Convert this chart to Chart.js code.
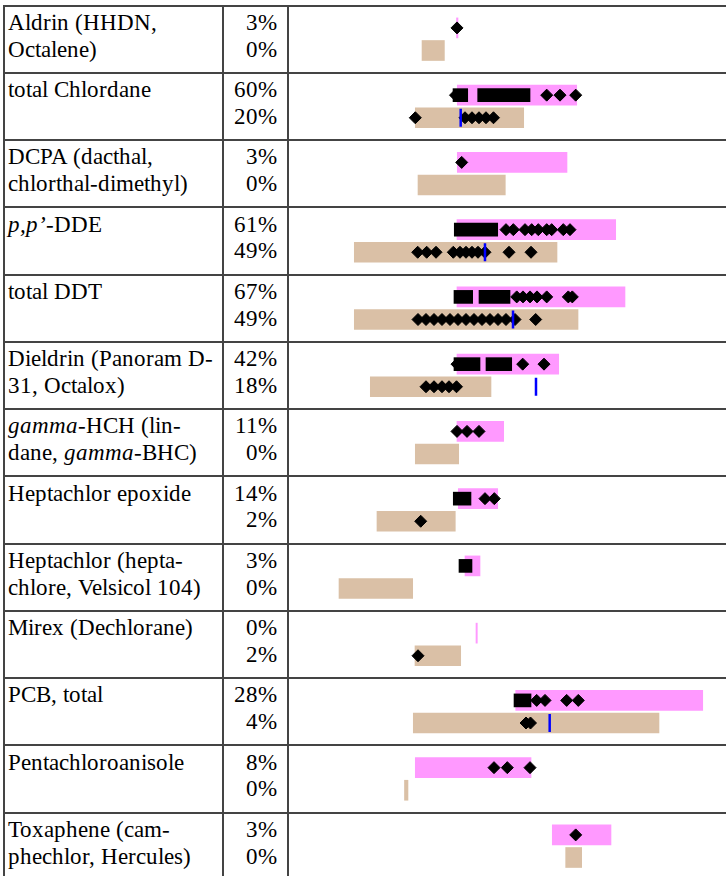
<!DOCTYPE html>
<html><head><meta charset="utf-8">
<script src="https://cdn.jsdelivr.net/npm/chart.js@4.4.1/dist/chart.umd.min.js"></script>
<style>
@font-face{font-family:'RefSerif';font-style:normal;font-weight:400;src:local('Liberation Serif'),local('LiberationSerif'),local('LiberationSerif-Regular'),local('Liberation Serif Regular'),local('Times New Roman'),local('DejaVu Serif'),local('DejaVuSerif'),local('Noto Serif');}
@font-face{font-family:'RefSerif';font-style:italic;font-weight:400;src:local('Liberation Serif Italic'),local('LiberationSerif-Italic'),local('Times New Roman Italic'),local('DejaVu Serif Italic'),local('DejaVuSerif-Italic'),local('Noto Serif Italic');}
html,body{margin:0;padding:0;background:#fff;overflow:hidden;}
#wrap{position:relative;width:726px;height:876px;overflow:hidden;font-family:'RefSerif','Liberation Serif','DejaVu Serif',serif;font-size:23.3px;line-height:26.8px;color:#000;}
.hl{position:absolute;left:3px;width:723px;height:2px;background:#444;}
.vl{position:absolute;top:4.7px;width:2px;height:880px;background:#444;}
.name{position:absolute;left:8px;width:214px;white-space:nowrap;}
.pct{position:absolute;left:226px;width:51px;text-align:right;}
#plot{position:absolute;left:290px;top:0;}
</style>
</head><body>
<div id="wrap"><canvas id="plot" width="436" height="876"></canvas></div>
<script>
// ---- data ----
const compounds = [
  'Aldrin (HHDN,<br>Octalene)',
  'total Chlordane',
  'DCPA (dacthal,<br>chlorthal-dimethyl)',
  '<i>p,p’</i>-DDE',
  'total DDT',
  'Dieldrin (Panoram D-<br>31, Octalox)',
  '<i>gamma</i>-HCH (lin-<br>dane, <i>gamma</i>-BHC)',
  'Heptachlor epoxide',
  'Heptachlor (hepta-<br>chlore, Velsicol 104)',
  'Mirex (Dechlorane)',
  'PCB, total',
  'Pentachloroanisole',
  'Toxaphene (cam-<br>phechlor, Hercules)'
];
const pctPink = ['3%','60%','3%','61%','67%','42%','11%','14%','3%','0%','28%','8%','3%'];
const pctTan  = ['0%','20%','0%','49%','49%','18%','0%','2%','0%','2%','4%','0%','0%'];

const pinkLow  = [38.19, 38.37, 38.37, 38.30, 38.30, 38.30, 38.30, 38.60, 40.14, 42.66, 51.77, 28.74, 60.16];
const pinkHigh = [38.53, 65.76, 63.53, 74.70, 76.83, 61.63, 49.01, 47.64, 43.58, 42.96, 94.66, 55.28, 73.62];
const tanLow   = [30.28, 28.74, 29.36, 14.75, 14.75, 18.42, 28.74, 19.95, 11.24, 28.67, 28.28, 26.26, 63.23];
const tanHigh  = [35.41, 53.60, 49.38, 61.24, 66.06, 46.10, 38.69, 37.91, 28.14, 39.15, 84.63, 27.06, 66.90];

const pinkBlocks = [
  [],
  [[37.39,40.76],[43.05,55.05]],
  [],
  [[37.68,47.64]],
  [[37.61,41.90],[43.35,50.46]],
  [[37.61,43.58],[44.95,50.85]],
  [],
  [[37.45,41.51]],
  [[38.76,41.74]],
  [],
  [[51.38,55.28]],
  [],
  []
];
const pinkDiamonds = [
  [38.30],
  [37.96, 58.88, 61.93, 65.53],
  [39.38],
  [49.54, 51.22, 53.90, 55.44, 56.95, 58.88, 60.02, 62.68, 64.22],
  [52.00, 53.44, 55.05, 56.65, 58.88, 63.83, 64.75],
  [38.30, 53.37, 58.26],
  [38.30, 40.60, 43.35],
  [44.72, 46.86],
  [],
  [],
  [56.58, 58.49, 63.46, 66.12],
  [46.79, 49.84, 55.05],
  [65.53]
];
const tanDiamonds = [
  [],
  [28.74, 40.14, 41.74, 43.35, 44.95, 46.67],
  [],
  [29.29, 31.35, 33.49, 37.45, 38.99, 40.37, 41.74, 43.12, 44.72, 50.23, 55.28],
  [29.36, 31.19, 33.03, 34.86, 36.70, 38.53, 40.37, 42.20, 44.04, 45.87, 47.71, 49.54, 51.61, 56.35],
  [31.19, 33.03, 34.86, 36.47, 38.19],
  [],
  [29.98],
  [],
  [29.36],
  [54.13, 55.16],
  [],
  []
];
const tanMarks = [null, 39.15, null, 44.72, 51.15, 56.42, null, null, null, null, 59.56, null, null];

// ---- layout ----
const ROW_H = 67.25, TOP0 = 4.7;
const PINK_OFF = 23.2 / ROW_H, TAN_OFF = 45.8 / ROW_H;
const wrap = document.getElementById('wrap');
function add(cls, style, html) {
  const d = document.createElement('div');
  d.className = cls; Object.assign(d.style, style);
  if (html !== undefined) d.innerHTML = html;
  wrap.appendChild(d); return d;
}
compounds.forEach((c, i) => {
  const t = TOP0 + ROW_H * i;
  add('hl', {top: t + 'px'});
  add('name', {top: (t + 4.2) + 'px'}, c);
  add('pct', {top: (t + 4.2) + 'px'}, pctPink[i] + '<br>' + pctTan[i]);
});
add('vl', {left: '3px'});
add('vl', {left: '222px'});
add('vl', {left: '286.5px'});

// ---- chart datasets ----
const PINK = 'rgb(255,153,255)', TAN = 'rgb(218,192,166)';
const pinkBars = compounds.map((c, i) => ({x: [pinkLow[i], pinkHigh[i]], y: i + PINK_OFF}));
const tanBars = compounds.map((c, i) => ({x: [tanLow[i], tanHigh[i]], y: i + TAN_OFF}));
const blocks = [];
pinkBlocks.forEach((r, i) => r.forEach(b => blocks.push({x: b, y: i + PINK_OFF})));
const pts = [];
pinkDiamonds.forEach((r, i) => r.forEach(x => pts.push({x, y: i + PINK_OFF})));
tanDiamonds.forEach((r, i) => r.forEach(x => pts.push({x, y: i + TAN_OFF})));
const marks = [];
tanMarks.forEach((x, i) => { if (x !== null) marks.push({x, y: i + TAN_OFF}); });

const barBase = {type: 'bar', indexAxis: 'y', grouped: false, borderWidth: 0, barThickness: 20};
new Chart(document.getElementById('plot'), {
  type: 'scatter',
  data: {datasets: [
    Object.assign({}, barBase, {data: pinkBars, backgroundColor: PINK, order: 5}),
    Object.assign({}, barBase, {data: tanBars, backgroundColor: TAN, order: 5}),
    Object.assign({}, barBase, {data: blocks, backgroundColor: '#000', barThickness: 13, order: 4}),
    {type: 'scatter', data: pts, pointStyle: 'rectRot', pointRadius: 6, backgroundColor: '#000', borderColor: '#000', borderWidth: 1, order: 2},
    {type: 'scatter', data: marks, pointStyle: 'line', pointRotation: 90, pointRadius: 9, borderColor: '#0000ff', borderWidth: 2.5, order: 1}
  ]},
  options: {
    responsive: false, animation: false, events: [],
    layout: {padding: 0, autoPadding: false},
    plugins: {legend: {display: false}, tooltip: {enabled: false}},
    scales: {
      x: {type: 'linear', min: 0, max: 100, display: false, offset: false},
      y: {type: 'linear', min: -TOP0 / ROW_H, max: (876 - TOP0) / ROW_H, reverse: true, display: false, offset: false}
    }
  }
});
</script>
</body></html>
